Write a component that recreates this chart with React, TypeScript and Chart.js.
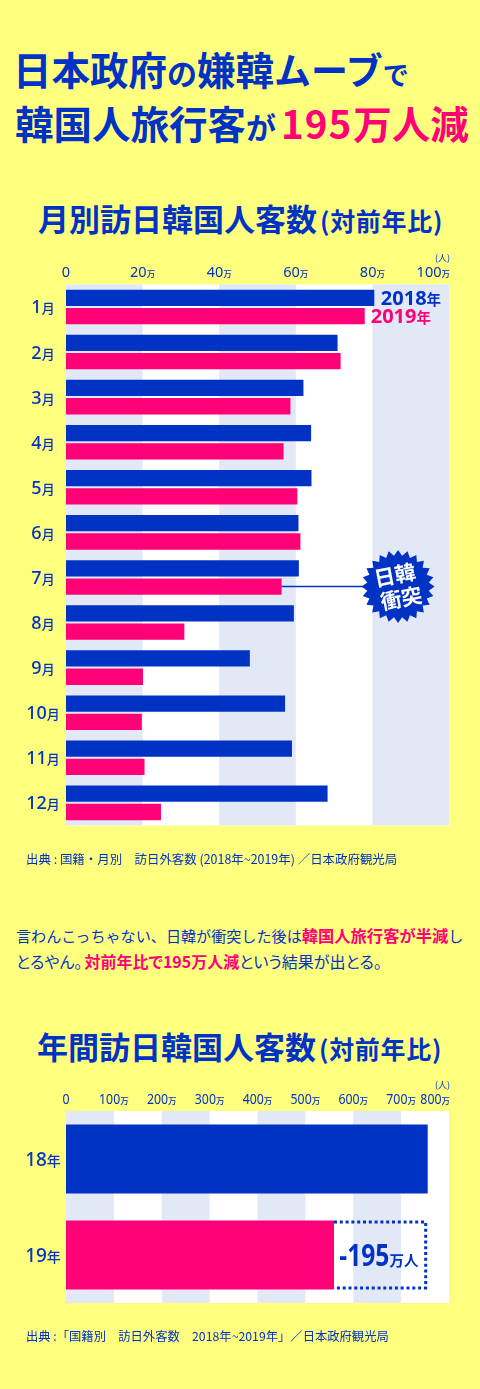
import React, { useEffect, useRef } from "react";
import { Chart, registerables } from "chart.js";

Chart.register(...registerables);

const BLUE = "#0033c4";
const PINK = "#ff0077";
const YELLOW = "#ffff7f";
const BAND = "#e3e8f6";
const CJK = '"Noto Sans CJK JP"';
const LATIN = '"Noto Sans"';

const months = ["1月", "2月", "3月", "4月", "5月", "6月", "7月", "8月", "9月", "10月", "11月", "12月"];
const visitors2018 = [80.5, 70.9, 62, 64, 64.1, 60.7, 60.8, 59.5, 48, 57.2, 59, 68.3];
const visitors2019 = [78, 71.7, 58.6, 56.8, 60.4, 61.2, 56.3, 30.9, 20.1, 19.8, 20.5, 24.8];
const years = ["18年", "19年"];
const annualVisitors = [755.5, 559.8];
const legendLabels = ["2018", "2019"];
const annualGap = "-195";
const collisionLabel = ["日韓", "衝突"];

type Part = { t: string; font: string; color?: string; sx?: number };

function drawMixed(ctx: any, parts: Part[], x: number, y: number, align: "left" | "center" | "right", color: string) {
  ctx.save();
  ctx.textAlign = "left";
  ctx.textBaseline = "alphabetic";
  let total = 0;
  const widths = parts.map((p) => {
    ctx.font = p.font;
    const w = ctx.measureText(p.t).width * (p.sx ?? 1);
    total += w;
    return w;
  });
  let cx = align === "left" ? x : align === "center" ? x - total / 2 : x - total;
  parts.forEach((p, i) => {
    ctx.font = p.font;
    ctx.fillStyle = p.color ?? color;
    ctx.save();
    ctx.translate(cx, y);
    ctx.scale(p.sx ?? 1, 1);
    ctx.fillText(p.t, 0, 0);
    ctx.restore();
    cx += widths[i];
  });
  ctx.restore();
}

const bandsPlugin = {
  id: "bands",
  beforeDatasetsDraw(chart: any) {
    const { ctx, chartArea: a, scales } = chart;
    const x = scales.x;
    ctx.save();
    ctx.fillStyle = "#ffffff";
    ctx.fillRect(a.left, a.top, a.right - a.left, a.bottom - a.top);
    ctx.fillStyle = BAND;
    x.ticks.forEach((t: any, i: number) => {
      if (i % 2 === 0 && i < x.ticks.length - 1) {
        const l = x.getPixelForValue(t.value);
        const r = x.getPixelForValue(x.ticks[i + 1].value);
        ctx.fillRect(l, a.top, r - l, a.bottom - a.top);
      }
    });
    ctx.restore();
  },
};

function axisPlugin(sx: number, numSize: number, unitSize: number) {
  return {
    id: "axisText",
    afterDraw(chart: any) {
      const { ctx, chartArea: a, scales } = chart;
      const x = scales.x;
      const y = scales.y;
      x.ticks.forEach((t: any, i: number) => {
        const px = x.getPixelForValue(t.value);
        const base = a.top - 7;
        if (t.value === 0) {
          drawMixed(ctx, [{ t: "0", font: `400 14.5px ${LATIN}`, sx }], px, base, "center", BLUE);
        } else {
          const last = i === x.ticks.length - 1;
          drawMixed(
            ctx,
            [
              { t: String(t.value), font: `400 14.5px ${LATIN}`, sx },
              { t: "万", font: `500 8.5px ${CJK}` },
            ],
            last ? a.right + 1 : px,
            base,
            last ? "right" : "center",
            BLUE
          );
        }
      });
      drawMixed(ctx, [{ t: "(人)", font: `400 9px ${CJK}` }], a.right + 1, a.top - 23, "right", BLUE);
      y.ticks.forEach((t: any, i: number) => {
        const label = String(chart.data.labels[i]);
        drawMixed(
          ctx,
          [
            { t: label.slice(0, -1), font: `500 ${numSize}px ${LATIN}` },
            { t: label.slice(-1), font: `500 ${unitSize}px ${CJK}` },
          ],
          43,
          y.getPixelForValue(i) + 6.5,
          "center",
          BLUE
        );
      });
    },
  };
}

const monthlyNotes = {
  id: "monthlyNotes",
  afterDatasetsDraw(chart: any) {
    const { ctx } = chart;
    const b18 = chart.getDatasetMeta(0).data[0];
    const b19 = chart.getDatasetMeta(1).data[0];
    drawMixed(
      ctx,
      [
        { t: legendLabels[0], font: `700 20px ${LATIN}` },
        { t: "年", font: `700 14.5px ${CJK}` },
      ],
      b18.x + 6.5,
      b18.y + 7,
      "left",
      BLUE
    );
    drawMixed(
      ctx,
      [
        { t: legendLabels[1], font: `700 20px ${LATIN}` },
        { t: "年", font: `700 14.5px ${CJK}` },
      ],
      b19.x + 6,
      b19.y + 7,
      "left",
      PINK
    );

    const july = chart.getDatasetMeta(1).data[6];
    const cx = chart.scales.x.getPixelForValue(86.7);
    const cy = july.y;
    ctx.save();
    ctx.strokeStyle = BLUE;
    ctx.lineWidth = 1.5;
    ctx.beginPath();
    ctx.moveTo(july.x, cy);
    ctx.lineTo(cx, cy);
    ctx.stroke();
    ctx.fillStyle = BLUE;
    ctx.beginPath();
    const n = 24;
    for (let i = 0; i < n * 2; i++) {
      const r = i % 2 === 0 ? 36.5 : 31;
      const ang = (Math.PI * i) / n;
      const px = cx + r * Math.cos(ang);
      const py = cy + r * Math.sin(ang);
      if (i === 0) ctx.moveTo(px, py);
      else ctx.lineTo(px, py);
    }
    ctx.closePath();
    ctx.fill();
    ctx.translate(cx, cy);
    ctx.rotate((-11 * Math.PI) / 180);
    ctx.fillStyle = "#ffffff";
    ctx.font = `700 21px ${CJK}`;
    ctx.textAlign = "center";
    ctx.textBaseline = "middle";
    ctx.fillText(collisionLabel[0], -1, -12);
    ctx.fillText(collisionLabel[1], 1, 12);
    ctx.restore();
  },
};

const annualNotes = {
  id: "annualNotes",
  afterDatasetsDraw(chart: any) {
    const { ctx } = chart;
    const meta = chart.getDatasetMeta(0).data;
    const b18 = meta[0];
    const b19 = meta[1];
    const top = b19.y - b19.height / 2 + 1.5;
    const bot = b19.y + b19.height / 2 - 1.5;
    ctx.save();
    ctx.strokeStyle = BLUE;
    ctx.lineWidth = 3;
    ctx.setLineDash([3, 2.8]);
    ctx.beginPath();
    ctx.moveTo(b19.x, top);
    ctx.lineTo(b18.x - 2, top);
    ctx.lineTo(b18.x - 2, bot);
    ctx.lineTo(b19.x, bot);
    ctx.stroke();
    ctx.restore();
    drawMixed(
      ctx,
      [
        { t: annualGap, font: `700 30px ${LATIN}`, sx: 0.82 },
        { t: "万人", font: `700 14.5px ${CJK}` },
      ],
      (b19.x + b18.x) / 2 - 2,
      b19.y + 11,
      "center",
      BLUE
    );
  },
};

function baseOptions(xMax: number, step: number, topH: number, pad: any) {
  return {
    indexAxis: "y",
    responsive: false,
    animation: false,
    maintainAspectRatio: false,
    layout: { padding: pad },
    plugins: { legend: { display: false }, tooltip: { enabled: false } },
    scales: {
      x: {
        position: "top",
        min: 0,
        max: xMax,
        ticks: { display: false, stepSize: step },
        grid: { display: false },
        border: { display: false },
        afterFit: (s: any) => {
          s.height = topH;
        },
      },
      y: {
        ticks: { display: false },
        grid: { display: false },
        border: { display: false },
        afterFit: (s: any) => {
          s.width = 66;
        },
      },
    },
  } as any;
}

type Seg = { t: string; fs: number; color?: string; w?: number; css?: any };

function Line({ segs, left, cy }: { segs: Seg[]; left: number; cy: number }) {
  return (
    <div
      style={{
        position: "absolute",
        left,
        top: cy - 30,
        height: 60,
        lineHeight: "60px",
        whiteSpace: "pre",
        color: BLUE,
        fontFamily: CJK,
      }}
    >
      {segs.map((s, i) => (
        <span key={i} style={{ fontSize: s.fs, color: s.color ?? BLUE, fontWeight: s.w ?? 700, ...(s.css ?? {}) }}>
          {s.t}
        </span>
      ))}
    </div>
  );
}

const palt = { fontFeatureSettings: '"palt"' };

export default function App() {
  const ref1 = useRef<HTMLCanvasElement>(null);
  const ref2 = useRef<HTMLCanvasElement>(null);

  useEffect(() => {
    const c1 = new Chart(ref1.current as any, {
      type: "bar",
      data: {
        labels: months,
        datasets: [
          { label: "2018年", data: visitors2018, backgroundColor: BLUE, borderWidth: 0, categoryPercentage: 0.812, barPercentage: 0.89 },
          { label: "2019年", data: visitors2019, backgroundColor: PINK, borderWidth: 0, categoryPercentage: 0.812, barPercentage: 0.89 },
        ],
      },
      options: baseOptions(100, 20, 34.4, { left: 0, right: 31, top: 0, bottom: 14.6 }),
      plugins: [bandsPlugin, axisPlugin(1, 18, 13), monthlyNotes],
    } as any);
    const c2 = new Chart(ref2.current as any, {
      type: "bar",
      data: {
        labels: years,
        datasets: [
          {
            label: "年間",
            data: annualVisitors,
            backgroundColor: [BLUE, PINK],
            borderWidth: 0,
            categoryPercentage: 0.72,
            barPercentage: 1,
          },
        ],
      },
      options: baseOptions(800, 100, 41, { left: 0, right: 31, top: 0, bottom: 7 }),
      plugins: [bandsPlugin, axisPlugin(0.85, 19, 14), annualNotes],
    } as any);
    return () => {
      c1.destroy();
      c2.destroy();
    };
  }, []);

  return (
    <div style={{ position: "absolute", left: 0, top: 0, width: 480, height: 1389, background: YELLOW, overflow: "hidden" }}>
      <Line
        left={13}
        cy={68}
        segs={[
          { t: "日本政府", fs: 38.5 },
          { t: "の", fs: 30 },
          { t: "嫌韓", fs: 38.5 },
          { t: "ムーブ", fs: 37 },
          { t: "で", fs: 26 },
        ]}
      />
      <Line
        left={15}
        cy={122}
        segs={[
          { t: "韓国人旅行客", fs: 38.5 },
          { t: "が", fs: 30 },
          { t: "195", fs: 38.5, color: PINK, css: { marginLeft: 5, letterSpacing: 1 } },
          { t: "万人減", fs: 38.5, color: PINK, css: { marginLeft: 1 } },
        ]}
      />
      <Line
        left={38}
        cy={218}
        segs={[
          { t: "月別訪日韓国人客数", fs: 31 },
          { t: "(対前年比)", fs: 25, css: { marginLeft: 3, letterSpacing: 0.7 } },
        ]}
      />
      <canvas ref={ref1} width={480} height={590} style={{ position: "absolute", left: 0, top: 250, width: 480, height: 590 }} />
      <Line left={26} cy={857} segs={[{ t: "出典 : 国籍・月別　訪日外客数 (2018年~2019年) ／日本政府観光局", fs: 12.45, w: 400 }]} />
      <Line
        left={16}
        cy={934.5}
        segs={[
          { t: "言わんこっちゃない、日韓が衝突した後は", fs: 15.1, w: 400 },
          { t: "韓国人旅行客が半減", fs: 16.3, color: PINK },
          { t: "し", fs: 15.1, w: 400 },
        ]}
      />
      <Line
        left={16}
        cy={960.5}
        segs={[
          { t: "とるやん。", fs: 16, w: 400, css: { ...palt, marginRight: 2 } },
          { t: "対前年比で195万人減", fs: 16, color: PINK, css: palt },
          { t: "という結果が出とる。", fs: 16, w: 400, css: palt },
        ]}
      />
      <Line
        left={37}
        cy={1046}
        segs={[
          { t: "年間訪日韓国人客数", fs: 31 },
          { t: "(対前年比)", fs: 25, css: { marginLeft: 3, letterSpacing: 0.7 } },
        ]}
      />
      <canvas ref={ref2} width={480} height={240} style={{ position: "absolute", left: 0, top: 1070, width: 480, height: 240 }} />
      <Line left={26} cy={1334} segs={[{ t: "出典 :「国籍別　訪日外客数　2018年~2019年」／日本政府観光局", fs: 12.3, w: 400 }]} />
    </div>
  );
}
